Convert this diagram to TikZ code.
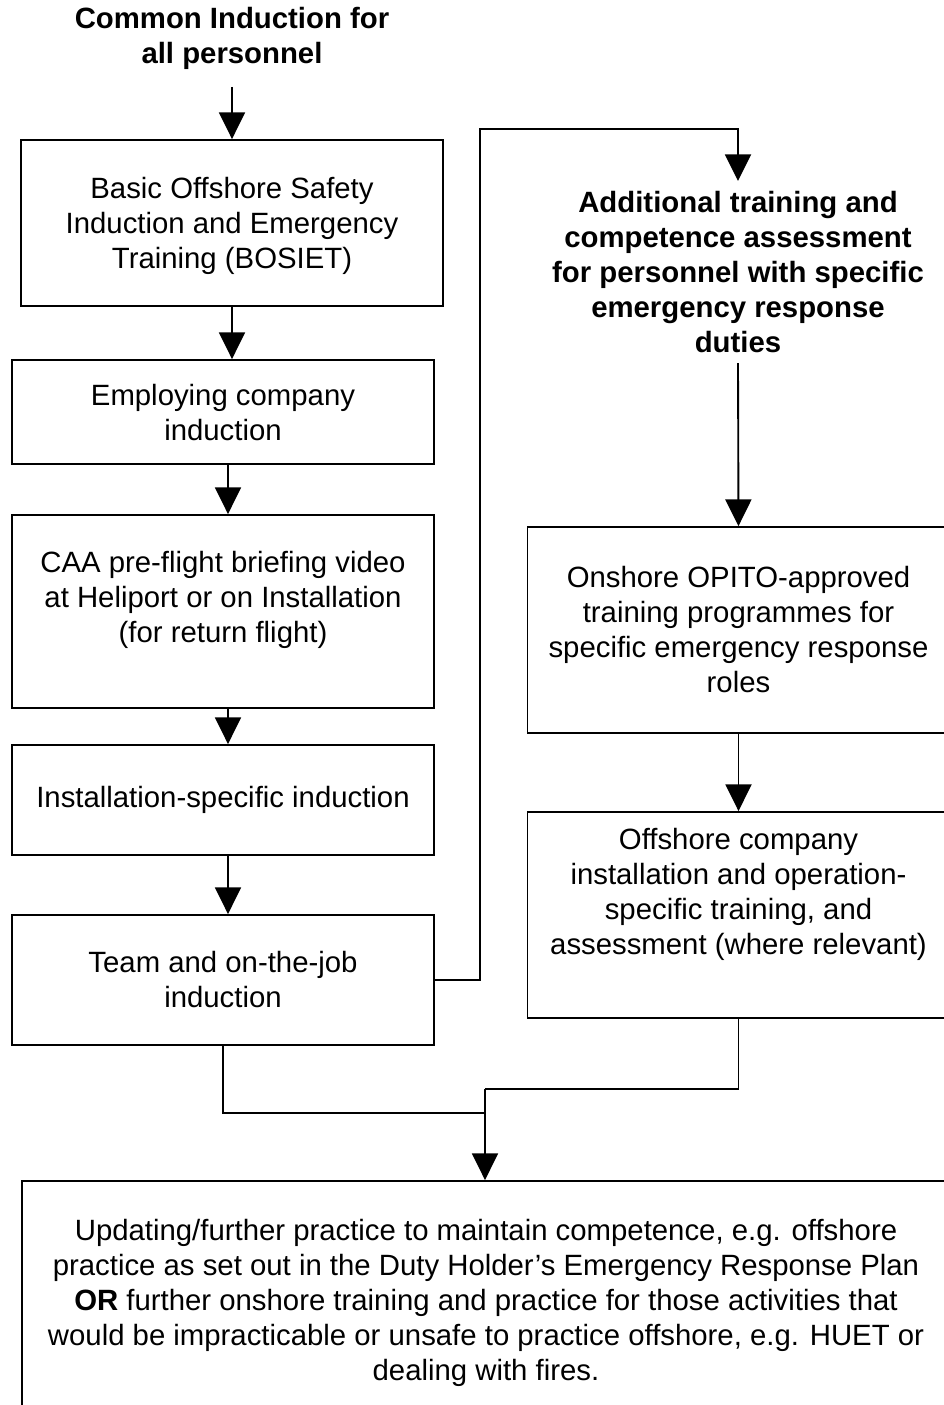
\documentclass[tikz,border=0pt]{standalone}
\usepackage{fontspec}
\setmainfont{Liberation Sans}
\usetikzlibrary{arrows.meta}
\begin{document}
\begin{tikzpicture}[x=0.75pt,y=-0.75pt,
  every node/.style={font=\fontsize{22}{26.25}\selectfont, align=center},
  box/.style={draw, line width=1.4pt, inner sep=0pt, minimum width=316.5pt},
  conn/.style={line width=1.4pt},
  arr/.style={conn, -{Triangle[width=19.5pt,length=20pt]}}]
\useasboundingbox (0,0) rectangle (943,1405);

% title
\node[font=\fontsize{22}{26.25}\selectfont\bfseries] (title) at (232,38)
  {Common Induction for\\all personnel};

% left column
\node[box, minimum height=124.5pt, text depth=0pt] (b1) at (232,223)
  {Basic Offshore Safety\\Induction and Emergency\\Training (BOSIET)};
\node[box, minimum height=78pt, text depth=0pt] (b2) at (223,412)
  {Employing company\\induction};
\node[box, minimum height=144.75pt, text depth=22pt] (b3) at (223,611.5)
  {CAA pre-flight briefing video\\at Heliport or on Installation\\(for return flight)};
\node[box, minimum height=82.5pt] (b4) at (223,800)
  {Installation-specific induction};
\node[box, minimum height=97.5pt] (b5) at (223,980)
  {Team and on-the-job\\induction};

% right column
\node[font=\fontsize{22}{26.25}\selectfont\bfseries, inner xsep=0pt, inner ysep=7.5pt] (add) at (738,272)
  {Additional training and\\competence assessment\\for personnel with specific\\emergency response\\duties};
\node[box, minimum height=154.5pt] (b6) at (738.5,630)
  {Onshore OPITO-approved\\training programmes for\\specific emergency response\\roles};
\node[box, minimum height=154.5pt, text depth=36pt] (b7) at (738.5,915)
  {Offshore company\\installation and operation-\\specific training, and\\assessment (where relevant)};

% bottom
\node[box, minimum width=696pt, minimum height=183pt] (b8) at (486,1303)
  {Updating/further practice to maintain competence, e.g. offshore\\
   practice as set out in the Duty Holder’s Emergency Response Plan\\
   \textbf{OR} further onshore training and practice for those activities that\\
   would be impracticable or unsafe to practice offshore, e.g. HUET or\\
   dealing with fires.};

% connectors
\draw[arr] (title.south) ++(0,13) -- (b1.north);
\draw[arr] (b1.south -| 232,0) -- (b2.north -| 232,0);
\draw[arr] (b2.south -| 228,0) -- (b3.north -| 228,0);
\draw[arr] (b3.south -| 228,0) -- (b4.north -| 228,0);
\draw[arr] (b4.south -| 228,0) -- (b5.north -| 228,0);

\coordinate (up) at (480,129);
\draw[arr] (b5.east) -| (up) -| (add.north);
\draw[arr] (add.south) -- (b6.north);
\draw[arr] (b6.south) -- (b7.north);

\coordinate (join) at (485,1089);
\draw[conn] (b7.south) |- (join);
\draw[conn] (b5.south) |- (join |- 0,1113);
\draw[arr] (join) -- (join |- b8.north);
\end{tikzpicture}
\end{document}
